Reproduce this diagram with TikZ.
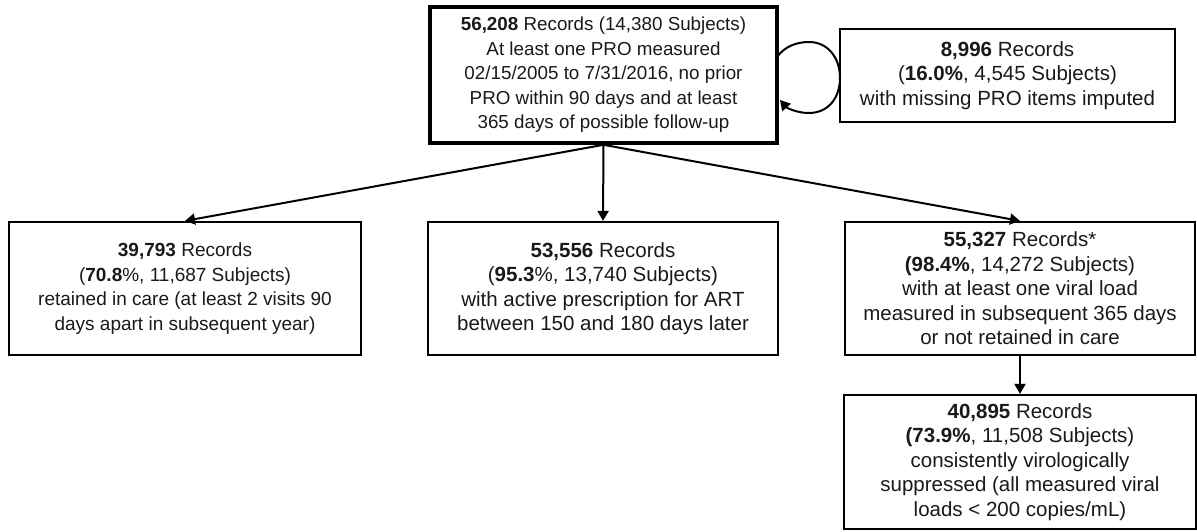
\documentclass[tikz,border=0pt]{standalone}
\usepackage{fontspec}
\setmainfont{Liberation Sans}
\usetikzlibrary{arrows.meta}
\begin{document}
\begin{tikzpicture}[x=1pt,y=-1pt,
  smalltext/.style={font=\fontsize{18.8}{24.5}\selectfont},
  midtext/.style={font=\fontsize{19}{24.5}\selectfont},
  bigtext/.style={font=\fontsize{20.5}{24.5}\selectfont},
  boxbase/.style={draw=black, rectangle, align=center, inner sep=0pt, text=black!90},
  thinbox/.style={boxbase, line width=2.2pt},
  thickbox/.style={boxbase, line width=3.6pt},
  conn/.style={line width=2pt, -{Triangle[length=10pt,width=11pt]}},
]
\useasboundingbox (0,0) rectangle (1197,531);
\node[thickbox, smalltext, minimum width=347pt, minimum height=136pt] (top) at (603.5,75)
  {\textbf{56,208} Records (14,380 Subjects)\\At least one PRO measured\\02/15/2005 to 7/31/2016, no prior\\PRO within 90 days and at least\\365 days of possible follow-up};
\node[thinbox, bigtext, minimum width=335pt, minimum height=93pt] (imp) at (1007.5,75.5)
  {\textbf{8,996} Records\\(\textbf{16.0\%}, 4,545 Subjects)\\with missing PRO items imputed};
\node[thinbox, midtext, minimum width=352pt, minimum height=133pt] (ret) at (185,288.5)
  {\textbf{39,793} Records\\(\textbf{70.8}\%, 11,687 Subjects)\\retained in care (at least 2 visits 90\\days apart in subsequent year)};
\node[thinbox, bigtext, minimum width=350pt, minimum height=133pt] (art) at (603,288.5)
  {\textbf{53,556} Records\\(\textbf{95.3}\%, 13,740 Subjects)\\with active prescription for ART\\between 150 and 180 days later};
\node[thinbox, bigtext, minimum width=350pt, minimum height=133pt] (vl) at (1020,288.5)
  {\textbf{55,327} Records*\\\textbf{(98.4\%}, 14,272 Subjects)\\with at least one viral load\\measured in subsequent 365 days\\or not retained in care};
\node[thinbox, bigtext, minimum width=352pt, minimum height=134pt] (sup) at (1020,462)
  {\textbf{40,895} Records\\\textbf{(73.9\%}, 11,508 Subjects)\\consistently virologically\\suppressed (all measured viral\\loads < 200 copies/mL)};
\draw[conn] (top.south) -- (ret.north);
\draw[conn] (top.south) -- (art.north);
\draw[conn] (top.south) -- (vl.north);
\draw[conn] (vl.south) -- (sup.north);
\coordinate (la) at (777,57);
\coordinate (lb) at (780,100);
\draw[conn] (la) .. controls (785,46) and (797,42) .. (809,42)
  .. controls (828,42) and (840,58) .. (840,78)
  .. controls (840,98) and (828,113) .. (809,113)
  .. controls (797,113) and (787,108) .. (lb);
\end{tikzpicture}
\end{document}
